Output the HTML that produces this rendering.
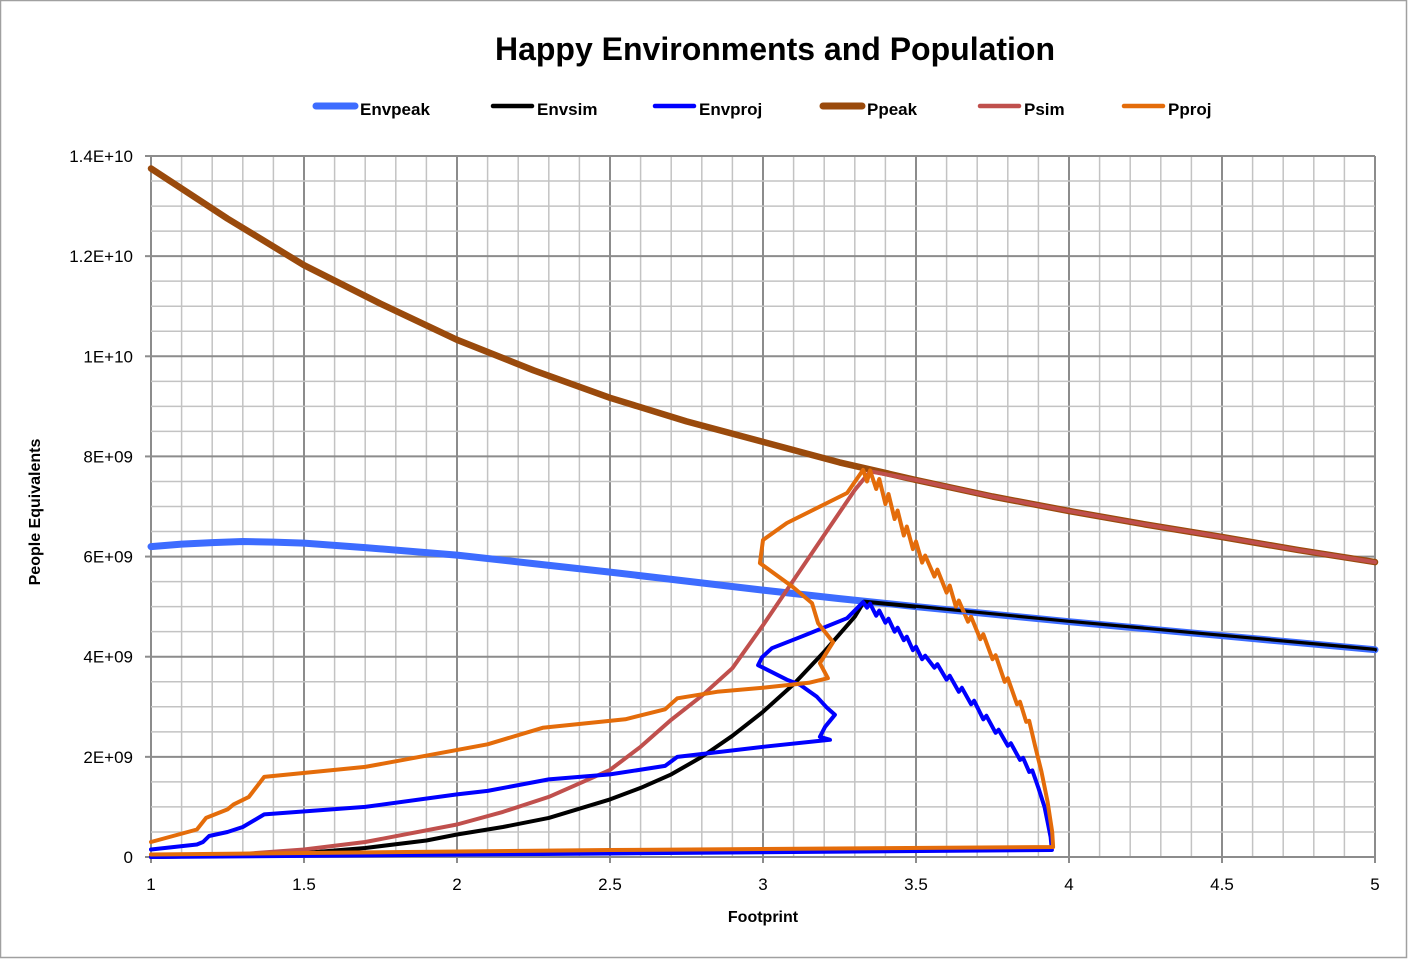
<!DOCTYPE html>
<html><head><meta charset="utf-8">
<style>
html,body{margin:0;padding:0;background:#fff;}
body{width:1408px;height:959px;overflow:hidden;font-family:"Liberation Sans",sans-serif;}
svg text{font-family:"Liberation Sans",sans-serif;}
</style></head>
<body>
<svg id="chart" width="1408" height="959" xmlns="http://www.w3.org/2000/svg">
<rect x="0.5" y="0.5" width="1406" height="957" fill="#fff" stroke="#a0a0a0" stroke-width="1.5"/>
<text x="775" y="60" text-anchor="middle" font-size="32" font-weight="bold" fill="#000">Happy Environments and Population</text>
<g id="grid"></g>
<g id="axes"></g>
<g id="series"></g>
<g id="legend"></g>
<text x="763" y="922" text-anchor="middle" font-size="16" font-weight="bold">Footprint</text>
<text transform="translate(40,512) rotate(-90)" text-anchor="middle" font-size="16" font-weight="bold">People Equivalents</text>
</svg>
<script>
const xTicks=[1,1.5,2,2.5,3,3.5,4,4.5,5];
const xTickLabels=["1","1.5","2","2.5","3","3.5","4","4.5","5"];
const yTicks=[0,2,4,6,8,10,12,14];
const yTickLabels=["0","2E+09","4E+09","6E+09","8E+09","1E+10","1.2E+10","1.4E+10"];

const envpeakX=[1,1.1,1.2,1.3,1.4,1.5,1.7,2,2.25,2.5,2.75,3,3.25,3.5,3.75,4,4.25,4.5,4.75,5];
const envpeakY=[6.2,6.25,6.28,6.3,6.29,6.27,6.18,6.03,5.86,5.69,5.51,5.33,5.16,5.0,4.85,4.7,4.56,4.42,4.28,4.14];

const envsimX=[1,1.3,1.5,1.7,1.9,2,2.15,2.3,2.5,2.6,2.7,2.8,2.9,3,3.1,3.2,3.3,3.33,3.5,3.75,4,4.25,4.5,4.75,5];
const envsimY=[0,0.03,0.08,0.18,0.33,0.45,0.6,0.78,1.15,1.38,1.65,2.0,2.42,2.9,3.45,4.1,4.8,5.1,5.0,4.85,4.7,4.56,4.42,4.28,4.14];

const envprojX=[1,1.15,1.17,1.19,1.25,1.3,1.37,1.7,2.0,2.1,2.3,2.5,2.68,2.72,3.0,3.219,3.186,3.203,3.235,3.209,3.176,3.121,3.078,2.984,2.997,3.029,3.121,3.275,3.327,3.34,3.35,3.37,3.38,3.40,3.41,3.43,3.44,3.46,3.47,3.49,3.50,3.52,3.53,3.56,3.57,3.60,3.61,3.64,3.65,3.68,3.69,3.72,3.73,3.76,3.77,3.80,3.81,3.84,3.85,3.87,3.88,3.90,3.92,3.93,3.94,3.944,2.5,1];
const envprojY=[0.15,0.25,0.3,0.42,0.5,0.6,0.85,1.0,1.25,1.32,1.55,1.65,1.82,2.0,2.2,2.34,2.4,2.6,2.84,2.98,3.2,3.44,3.54,3.83,3.99,4.17,4.39,4.77,5.09,4.98,5.06,4.82,4.92,4.68,4.76,4.5,4.58,4.33,4.4,4.13,4.2,3.95,4.02,3.78,3.85,3.54,3.62,3.3,3.38,3.05,3.12,2.75,2.82,2.48,2.54,2.22,2.27,1.94,1.98,1.7,1.73,1.38,1.0,0.7,0.4,0.14,0.07,0.0];

const ppeakX=[1,1.25,1.5,1.75,2,2.25,2.5,2.75,3,3.25,3.5,3.75,4,4.25,4.5,4.75,5];
const ppeakY=[13.75,12.75,11.82,11.05,10.33,9.72,9.17,8.7,8.29,7.88,7.53,7.2,6.91,6.64,6.39,6.13,5.89];

const psimX=[1,1.3,1.5,1.7,2,2.15,2.3,2.5,2.6,2.7,2.8,2.9,3.0,3.1,3.2,3.3,3.35,3.5,3.75,4,4.25,4.5,4.75,5];
const psimY=[0,0.06,0.15,0.3,0.65,0.9,1.2,1.74,2.2,2.74,3.22,3.77,4.63,5.53,6.43,7.33,7.7,7.53,7.2,6.91,6.64,6.39,6.13,5.89];

const pprojX=[1,1.15,1.18,1.25,1.27,1.32,1.37,1.7,2.1,2.28,2.55,2.68,2.72,2.85,3.0,3.15,3.212,3.186,3.229,3.180,3.160,3.098,2.990,3.0,3.078,3.275,3.327,3.34,3.35,3.37,3.38,3.40,3.41,3.43,3.44,3.46,3.47,3.49,3.50,3.52,3.53,3.56,3.57,3.60,3.61,3.63,3.64,3.67,3.68,3.71,3.72,3.75,3.76,3.79,3.80,3.83,3.84,3.86,3.87,3.89,3.91,3.93,3.945,3.948,2.5,1];
const pprojY=[0.3,0.55,0.78,0.95,1.05,1.2,1.6,1.8,2.25,2.58,2.75,2.95,3.17,3.3,3.38,3.48,3.57,3.87,4.29,4.67,5.07,5.39,5.87,6.33,6.67,7.27,7.73,7.5,7.72,7.35,7.55,7.05,7.25,6.75,6.92,6.42,6.6,6.15,6.3,5.88,6.02,5.6,5.74,5.28,5.42,5.0,5.12,4.7,4.8,4.35,4.45,3.95,4.03,3.5,3.57,3.05,3.1,2.7,2.72,2.2,1.7,1.1,0.5,0.2,0.14,0.05];

const seriesNames=["Envpeak","Envsim","Envproj","Ppeak","Psim","Pproj"];

const NS="http://www.w3.org/2000/svg";
const X0=151,X1=1375,Y0=857,Y1=156;
function sx(v){return X0+(v-1)/(5-1)*(X1-X0);}
function sy(v){return Y0-(v/14)*(Y0-Y1);}
function mk(tag,attrs,parent){const e=document.createElementNS(NS,tag);for(const k in attrs)e.setAttribute(k,attrs[k]);parent.appendChild(e);return e;}

const grid=document.getElementById('grid');
for(let i=0;i<=40;i++){const v=1+i*0.1;const major=i%5===0;
 const l=mk('line',{x1:sx(v),x2:sx(v),y1:Y1,y2:Y0,stroke:major?'#8c8c8c':'#c3c3c3','stroke-width':major?2:1.5},grid);
 
 }
for(let i=0;i<=28;i++){const v=i*0.5;const major=i%4===0;
 const l=mk('line',{x1:X0,x2:X1,y1:sy(v),y2:sy(v),stroke:major?'#8c8c8c':'#c3c3c3','stroke-width':major?2:1.5},grid);
 
 }

const axes=document.getElementById('axes');
xTicks.forEach((v,i)=>{
 const t=mk('line',{x1:sx(v),x2:sx(v),y1:Y0,y2:Y0+6,stroke:'#8c8c8c','stroke-width':2},axes);
 
 
 const tx=mk('text',{x:sx(v),y:Y0+33,'text-anchor':'middle','font-size':17},axes);
 tx.textContent=xTickLabels[i];
 
 });
yTicks.forEach((v,i)=>{
 const t=mk('line',{x1:X0-6,x2:X0,y1:sy(v),y2:sy(v),stroke:'#8c8c8c','stroke-width':2},axes);
 
 
 const tx=mk('text',{x:X0-18,y:sy(v)+6,'text-anchor':'end','font-size':17},axes);
 tx.textContent=yTickLabels[i];
 
 });

const styles=[
 {xs:envpeakX,ys:envpeakY,c:'#3d6cff',w:7},
 {xs:envsimX,ys:envsimY,c:'#000000',w:4},
 {xs:envprojX,ys:envprojY,c:'#0000ff',w:4},
 {xs:ppeakX,ys:ppeakY,c:'#9a4a0c',w:6.5},
 {xs:psimX,ys:psimY,c:'#c0504d',w:4},
 {xs:pprojX,ys:pprojY,c:'#e46c0a',w:4}];
const sg=document.getElementById('series');
const order=[0,3,1,4,2,5];
order.forEach(i=>{const s=styles[i];
 const d=s.xs.map((x,j)=>(j?'L':'M')+sx(x).toFixed(1)+','+sy(s.ys[j]).toFixed(1)).join(' ');
 const p=mk('path',{d:d,fill:'none',stroke:s.c,'stroke-width':s.w,'stroke-linejoin':'round','stroke-linecap':'round'},sg);
 
 });
(function(){const p=mk('path',{d:envpeakX.filter(x=>x>=3.33).map((x,j)=>(j?'L':'M')+sx(x)+','+(sy(envpeakY[envpeakX.indexOf(x)])+2)).join(' '),fill:'none',stroke:'#3d6cff','stroke-width':1.5},sg);
 
 })();

const legX=[313,490,652,820,977,1121];
const lg=document.getElementById('legend');
seriesNames.forEach((n,i)=>{
 const g=mk('g',{},lg);
 
 
 mk('line',{x1:legX[i]+3,x2:legX[i]+42,y1:106,y2:106,stroke:styles[i].c,'stroke-width':i===0||i===3?7:4.5,'stroke-linecap':'round'},g);
 const t=mk('text',{x:legX[i]+47,y:115,'font-size':17,'font-weight':'bold'},g);
 t.textContent=n;});
</script>
</body></html>
